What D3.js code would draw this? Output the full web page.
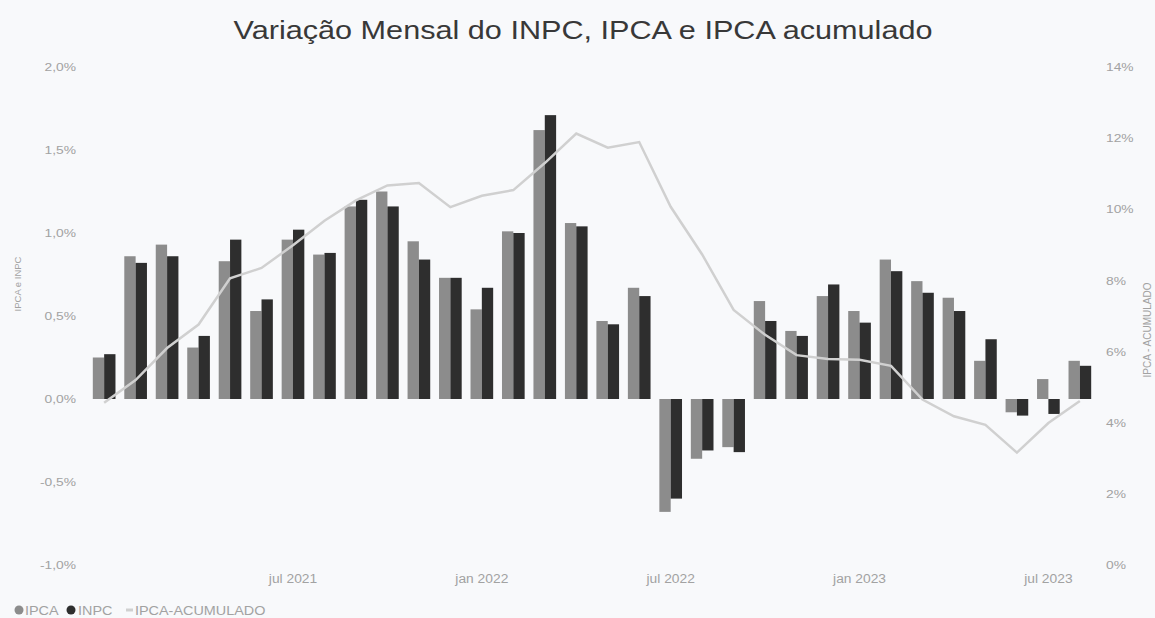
<!DOCTYPE html>
<html>
<head>
<meta charset="utf-8">
<script src="https://cdn.jsdelivr.net/npm/d3@7"></script>
<style>
  body { margin: 0; background: #f8f9fb; }
  text { font-family: "Liberation Sans", Arial, sans-serif; }
</style>
</head>
<body>
<div id="chart"></div>
<script>
// months jan 2021 .. ago 2023
const months = [
  "2021-01","2021-02","2021-03","2021-04","2021-05","2021-06","2021-07","2021-08","2021-09","2021-10","2021-11","2021-12",
  "2022-01","2022-02","2022-03","2022-04","2022-05","2022-06","2022-07","2022-08","2022-09","2022-10","2022-11","2022-12",
  "2023-01","2023-02","2023-03","2023-04","2023-05","2023-06","2023-07","2023-08"
];

// monthly variation (%)
const ipca = [0.25,0.86,0.93,0.31,0.83,0.53,0.96,0.87,1.16,1.25,0.95,0.73,
              0.54,1.01,1.62,1.06,0.47,0.67,-0.68,-0.36,-0.29,0.59,0.41,0.62,
              0.53,0.84,0.71,0.61,0.23,-0.08,0.12,0.23];
const inpc = [0.27,0.82,0.86,0.38,0.96,0.60,1.02,0.88,1.20,1.16,0.84,0.73,
              0.67,1.00,1.71,1.04,0.45,0.62,-0.60,-0.31,-0.32,0.47,0.38,0.69,
              0.46,0.77,0.64,0.53,0.36,-0.10,-0.09,0.20];

// IPCA 12-month accumulated (%)
const ipcaAcum = [4.56,5.20,6.10,6.76,8.06,8.35,8.99,9.68,10.25,10.67,10.74,10.06,
                  10.38,10.54,11.30,12.13,11.73,11.89,10.07,8.73,7.17,6.47,5.90,5.79,
                  5.77,5.60,4.65,4.18,3.94,3.16,3.99,4.61];

const leftTicks = [-1, -0.5, 0, 0.5, 1, 1.5, 2];
const rightTicks = [0, 2, 4, 6, 8, 10, 12, 14];
const xLabels = { "2021-07": "jul 2021", "2022-01": "jan 2022", "2022-07": "jul 2022", "2023-01": "jan 2023", "2023-07": "jul 2023" };

const width = 1155, height = 618;
const colIpca = "#8c8c8c", colInpc = "#2e2e2e", colLine = "#d0d0d0", textCol = "#a2a2a2";

// the original text is a bit wider than Liberation Sans
function stretch(sel, f) {
  sel.each(function() {
    const w = this.getComputedTextLength();
    d3.select(this).attr("textLength", w * f).attr("lengthAdjust", "spacingAndGlyphs");
  });
}

const svg = d3.select("#chart").append("svg")
  .attr("width", width).attr("height", height);

svg.append("rect").attr("width", width).attr("height", height).attr("fill", "#f8f9fb");

const x = d3.scaleBand().domain(months).range([84, 1100]).padding(0.28);
const sub = d3.scaleBand().domain(["ipca", "inpc"]).range([0, x.bandwidth()]);
const yL = d3.scaleLinear().domain([-1, 2]).range([565, 67]);
const yR = d3.scaleLinear().domain([0, 14]).range([565, 67]);

const fmtL = d => d3.format(".1f")(d).replace(".", ",").replace("−", "-") + "%";

// bars
const series = [{key: "ipca", vals: ipca, color: colIpca}, {key: "inpc", vals: inpc, color: colInpc}];
series.forEach(s => {
  svg.append("g").selectAll("rect")
    .data(months)
    .join("rect")
    .attr("x", (m) => x(m) + sub(s.key))
    .attr("width", sub.bandwidth())
    .attr("y", (m, i) => yL(Math.max(0, s.vals[i])))
    .attr("height", (m, i) => Math.abs(yL(s.vals[i]) - yL(0)))
    .attr("fill", s.color);
});

// accumulated line
const line = d3.line()
  .x((d, i) => x(months[i]) + x.bandwidth() / 2)
  .y(d => yR(d));
svg.append("path")
  .datum(ipcaAcum)
  .attr("fill", "none")
  .attr("stroke", colLine)
  .attr("stroke-width", 2.5)
  .attr("d", line);

// left axis
const gL = svg.append("g")
  .attr("transform", "translate(80,0)")
  .call(d3.axisLeft(yL).tickValues(leftTicks).tickFormat(fmtL).tickSize(0).tickPadding(4));
gL.select(".domain").remove();
gL.selectAll("text").attr("fill", textCol).style("font-size", "11.5px").call(stretch, 1.2);

// right axis
const gR = svg.append("g")
  .attr("transform", "translate(1102,0)")
  .call(d3.axisRight(yR).tickValues(rightTicks).tickFormat(d => d + "%").tickSize(0).tickPadding(4));
gR.select(".domain").remove();
gR.selectAll("text").attr("fill", textCol).style("font-size", "11.5px").call(stretch, 1.2);

// x axis labels
const gX = svg.append("g")
  .attr("transform", "translate(0,570)")
  .call(d3.axisBottom(x).tickValues(Object.keys(xLabels)).tickFormat(m => xLabels[m]).tickSize(0).tickPadding(4));
gX.select(".domain").remove();
gX.selectAll("text").attr("fill", textCol).style("font-size", "12px").call(stretch, 1.15);

// title
svg.append("text")
  .attr("x", 583).attr("y", 39)
  .attr("text-anchor", "middle")
  .attr("fill", "#383838")
  .style("font-size", "26.5px")
  .attr("textLength", 699)
  .attr("lengthAdjust", "spacingAndGlyphs")
  .text("Variação Mensal do INPC, IPCA e IPCA acumulado");

// axis titles
svg.append("text")
  .attr("transform", "translate(21,284) rotate(-90)")
  .attr("text-anchor", "middle")
  .attr("fill", textCol)
  .style("font-size", "9.5px")
  .text("IPCA e INPC");

svg.append("text")
  .attr("transform", "translate(1151,330) rotate(-90)")
  .attr("text-anchor", "middle")
  .attr("fill", textCol)
  .style("font-size", "10px")
  .text("IPCA - ACUMULADO");

// legend
const lg = svg.append("g").attr("transform", "translate(0,610)");
lg.append("circle").attr("cx", 19).attr("cy", 0).attr("r", 4.5).attr("fill", colIpca);
lg.append("text").attr("x", 25).attr("y", 4.5).attr("fill", textCol).style("font-size", "12px").text("IPCA").call(stretch, 1.2);
lg.append("circle").attr("cx", 71).attr("cy", 0).attr("r", 4.5).attr("fill", colInpc);
lg.append("text").attr("x", 78).attr("y", 4.5).attr("fill", textCol).style("font-size", "12px").text("INPC").call(stretch, 1.2);
lg.append("line").attr("x1", 126).attr("x2", 133).attr("y1", 0).attr("y2", 0).attr("stroke", colLine).attr("stroke-width", 3);
lg.append("text").attr("x", 135).attr("y", 4.5).attr("fill", textCol).style("font-size", "12px").text("IPCA-ACUMULADO").call(stretch, 1.2);
</script>
</body>
</html>
